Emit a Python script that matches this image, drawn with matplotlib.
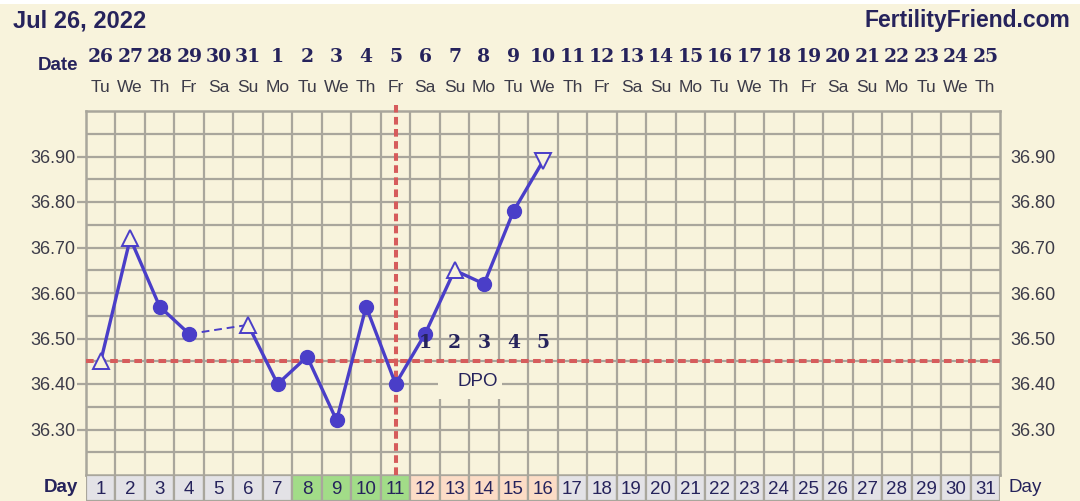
import numpy as np
import matplotlib
matplotlib.use("Agg")
import matplotlib.pyplot as plt
import matplotlib.transforms as mtransforms
from matplotlib.patches import Rectangle

# ### chart data
cycle_days = np.arange(1, 32)
dates = ['26', '27', '28', '29', '30', '31', '1', '2', '3', '4', '5', '6', '7', '8', '9',
         '10', '11', '12', '13', '14', '15', '16', '17', '18', '19', '20', '21', '22',
         '23', '24', '25']
weekdays = ['Tu', 'We', 'Th', 'Fr', 'Sa', 'Su', 'Mo', 'Tu', 'We', 'Th', 'Fr', 'Sa', 'Su',
            'Mo', 'Tu', 'We', 'Th', 'Fr', 'Sa', 'Su', 'Mo', 'Tu', 'We', 'Th', 'Fr', 'Sa',
            'Su', 'Mo', 'Tu', 'We', 'Th']
temps = [36.45, 36.72, 36.57, 36.51, np.nan, 36.53, 36.40, 36.46, 36.32, 36.57,
         36.40, 36.51, 36.65, 36.62, 36.78, 36.89]
markers = ['^', '^', 'o', 'o', '', '^', 'o', 'o', 'o', 'o', 'o', 'o', '^', 'o', 'o', 'v']
coverline = 36.45
ovulation_day = 11
fertile_days = [8, 9, 10, 11]
dpo_days = [12, 13, 14, 15, 16]
temp_labels = [36.30, 36.40, 36.50, 36.60, 36.70, 36.80, 36.90]

# ### colours
BG = '#f8f3dc'
GRID = '#a9a69c'
LINE = '#4a3ec8'
RED = '#d65c5c'
NAVY = '#26235c'
LBL = '#3c3b48'

W, H = 1080, 501
fig = plt.figure(figsize=(W / 100, H / 100), dpi=100, facecolor=BG)
fig.patches.append(Rectangle((0, 1 - 4 / H), 1, 4 / H, transform=fig.transFigure,
                             facecolor='white', edgecolor='none'))

ax = fig.add_axes([86 / W, 26 / H, 914 / W, 364 / H])
ax.set_facecolor(BG)
ax.set_xlim(0.5, 31.5)
ax.set_ylim(36.2, 37.0)

# grid
ax.vlines(np.arange(1.5, 31.5, 1), 36.2, 37.0, color=GRID, lw=1.6, zorder=1)
ax.hlines(np.arange(36.25, 36.99, 0.05), 0.5, 31.5, color=GRID, lw=1.6, zorder=1)
for s in ax.spines.values():
    s.set_color(GRID)
    s.set_linewidth(1.8)

ax.set_xticks([])
ax.set_yticks(temp_labels)
ax.set_yticklabels([f'{v:.2f}' for v in temp_labels])
ax.tick_params(axis='y', length=6.5, width=1.6, color=GRID, pad=1, labelsize=13,
               labelcolor=LBL, right=False, labelright=True)
for lab in ax.get_yticklabels(which='both'):
    lab.set_fontfamily('Liberation Sans')

# coverline and ovulation line
ax.axhline(coverline, color=RED, lw=2.9, ls=(0, (1.9, 1.1)), zorder=3)
ax.plot([ovulation_day, ovulation_day], [36.2, 37.014], color=RED, lw=2.9,
        ls=(0, (1.9, 1.1)), zorder=3, clip_on=False)

# temperature line
days = cycle_days[:len(temps)]
t = np.array(temps)
ax.plot(days, t, color=LINE, lw=2.4, zorder=4)
for i in range(1, len(t) - 1):
    if np.isnan(t[i]):
        ax.plot([days[i - 1], days[i + 1]], [t[i - 1], t[i + 1]], color=LINE, lw=1.4,
                ls=(0, (4, 2.5)), zorder=4)

for d, v, m in zip(days, t, markers):
    if m == 'o':
        ax.plot(d, v, marker='o', ms=10, color=LINE, zorder=5)
    elif m in ('^', 'v'):
        ax.plot(d, v, marker=m, ms=12, mfc=BG, mec=LINE, mew=1.4, zorder=5)

# DPO labels
for n, d in enumerate(dpo_days, start=1):
    ax.text(d, 36.49, str(n), ha='center', va='center', fontsize=13.5,
            fontweight='bold', family='DejaVu Serif', color=NAVY, zorder=6)
ax.add_patch(Rectangle((12.45, 36.366), 2.15, 0.081, facecolor=BG, edgecolor='none',
                       zorder=2))
ax.text(13.8, 36.405, 'DPO', ha='center', va='center', fontsize=13.5,
        family='Liberation Sans', color=NAVY, zorder=6)

# day row
axd = fig.add_axes([86 / W, 0, 914 / W, 26 / H])
axd.set_xlim(0.5, 31.5)
axd.set_ylim(0, 1)
axd.axis('off')
cell_colors = []
for d in cycle_days:
    if d in fertile_days:
        cell_colors.append('#a2dc88')
    elif d in dpo_days:
        cell_colors.append('#fcdcc6')
    else:
        cell_colors.append('#e3e2e6')
axd.bar(cycle_days, 1, width=1, bottom=0, color=cell_colors, edgecolor=GRID, lw=1.6)
for d in cycle_days:
    axd.text(d, 0.45, str(d), ha='center', va='center', fontsize=13.5,
             family='Liberation Sans', color=NAVY)

fig.text(78 / W, 1 - 488 / H, 'Day', ha='right', va='center', fontsize=13.5,
         fontweight='bold', family='Liberation Sans', color=NAVY)
fig.text(1008 / W, 1 - 488 / H, 'Day', ha='left', va='center', fontsize=13.5,
         family='Liberation Sans', color=NAVY)

# header
fig.text(13 / W, 1 - 21 / H, 'Jul 26, 2022', ha='left', va='center', fontsize=17,
         fontweight='bold', family='Liberation Sans', color=NAVY)
fig.text(1070 / W, 1 - 21 / H, 'FertilityFriend.com', ha='right', va='center',
         fontsize=16.5, fontweight='bold', family='Liberation Sans', color=NAVY)
fig.text(78 / W, 1 - 66 / H, 'Date', ha='right', va='center', fontsize=13.5,
         fontweight='bold', family='Liberation Sans', color=NAVY)

tr = mtransforms.blended_transform_factory(ax.transData, fig.transFigure)
for d, ds, wd in zip(cycle_days, dates, weekdays):
    ax.text(d, 1 - 57 / H, ds, transform=tr, ha='center', va='center', fontsize=13.5,
            fontweight='bold', family='DejaVu Serif', color=NAVY)
    ax.text(d, 1 - 87 / H, wd, transform=tr, ha='center', va='center', fontsize=12.5,
            family='Liberation Sans', color=LBL)

fig.savefig('out.png', dpi=100, facecolor=BG)
